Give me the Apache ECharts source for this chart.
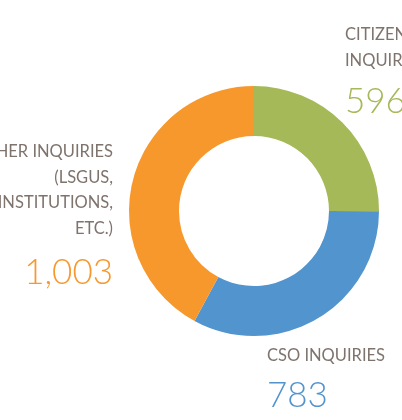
<!DOCTYPE html>
<html>
<head>
<meta charset="utf-8">
<script src="https://cdn.jsdelivr.net/npm/echarts@6/dist/echarts.min.js"></script>
<style>html,body{margin:0;padding:0;background:#fff;}#c{width:402px;height:420px;}</style>
</head>
<body>
<div id="c"></div>
<script>
const categories = ['CITIZEN\nINQUIRIES', 'CSO INQUIRIES', 'OTHER INQUIRIES\n(LSGUS,\nINSTITUTIONS,\nETC.)'];
const values = [596, 783, 1003];
const colors = ['#a5b958', '#5294ce', '#f7982d'];

const chart = echarts.init(document.getElementById('c'));
const fmt = v => v.toLocaleString('en-US');
const labelFont = 'Lato, "Open Sans", sans-serif';
const textGray = '#7f736d';

// label anchors (positions only)
const anchors = [
  {x: 345, y: 22, align: 'left'},
  {x: 267, y: 343, align: 'left'},
  {x: 113, y: 139, align: 'right'}
];
const numOffsets = [62, 35, 116];

const graphics = [];
categories.forEach((c, i) => {
  const a = anchors[i];
  graphics.push({
    type: 'text', x: a.x, y: a.y, silent: true,
    style: {text: c, fill: textGray, font: '16.5px ' + labelFont, align: a.align, verticalAlign: 'top', lineHeight: 25.5}
  });
  graphics.push({
    type: 'text', x: a.x, y: a.y + numOffsets[i], silent: true,
    style: {text: fmt(values[i]), fill: colors[i], font: '300 35px ' + labelFont, align: a.align, verticalAlign: 'top'}
  });
});

chart.setOption({
  animation: false,
  graphic: graphics,
  series: [{
    type: 'pie',
    center: [254, 211],
    radius: [75, 125],
    startAngle: 90,
    clockwise: true,
    silent: true,
    label: {show: false},
    labelLine: {show: false},
    itemStyle: {borderWidth: 0},
    data: values.map((v, i) => ({value: v, name: categories[i], itemStyle: {color: colors[i]}}))
  }]
});
</script>
</body>
</html>
